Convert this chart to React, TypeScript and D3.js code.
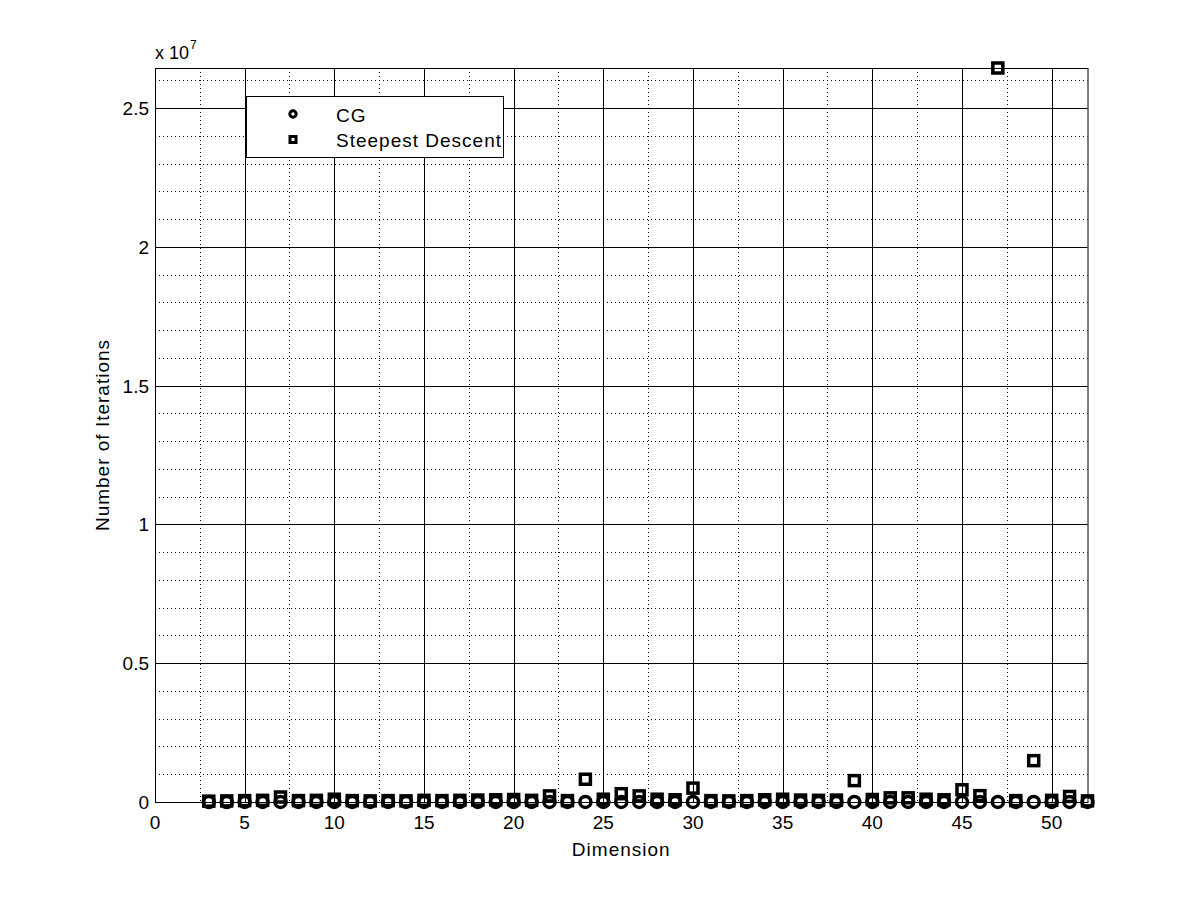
import React, { useEffect, useRef } from "react";
import * as d3 from "d3";

// problem dimension (x axis)
const dims = [
  3, 4, 5, 6, 7, 8, 9, 10, 11, 12, 13, 14, 15, 16, 17, 18, 19, 20, 21, 22, 23, 24, 25, 26, 27,
  28, 29, 30, 31, 32, 33, 34, 35, 36, 37, 38, 39, 40, 41, 42, 43, 44, 45, 46, 47, 48, 49, 50, 51, 52,
];

// CG iterations (tiny compared to steepest descent)
const cgIters = [
  20, 40, 60, 80, 100, 120, 140, 160, 180, 200, 220, 240, 260, 280, 300, 320, 340, 360, 380, 400, 420,
  440, 460, 480, 500, 520, 540, 560, 580, 600, 620, 640, 660, 680, 700, 720, 740, 760, 780, 800, 820,
  840, 860, 880, 900, 920, 940, 960, 980, 1000,
];

// steepest descent iterations
const sdIters = [
  30000, 40000, 50000, 60000, 180000, 50000, 60000, 100000, 50000, 40000, 50000, 40000, 60000, 50000,
  60000, 70000, 80000, 90000, 60000, 220000, 50000, 820000, 100000, 300000, 220000, 100000, 80000,
  500000, 50000, 40000, 50000, 80000, 100000, 70000, 60000, 70000, 770000, 90000, 150000, 150000,
  100000, 80000, 440000, 230000, 26450000, 50000, 1490000, 60000, 200000, 40000,
];

const xTicks = [0, 5, 10, 15, 20, 25, 30, 35, 40, 45, 50];
const yTicks = [0, 5e6, 10e6, 15e6, 20e6, 25e6];
const yTickLabels = ["0", "0.5", "1", "1.5", "2", "2.5"];

export default function App() {
  const ref = useRef<SVGSVGElement | null>(null);

  useEffect(() => {
    const W = 1201;
    const H = 901;
    const m = { left: 155, right: 1087.5, top: 68, bottom: 802 };
    const font = "'Liberation Sans', Arial, Helvetica, sans-serif";

    const x = d3.scaleLinear().domain([0, 52]).range([m.left, m.right]);
    const y = d3.scaleLinear().domain([0, 26450000]).range([m.bottom, m.top]);

    const svg = d3.select(ref.current);
    svg.selectAll("*").remove();
    svg.attr("width", W).attr("height", H);

    svg.append("rect").attr("width", W).attr("height", H).attr("fill", "#fff");

    // minor grid
    const xMinor = d3.range(2.5, 52, 5);
    const yMinor = d3.range(1e6, 26.5e6, 1e6).filter((v) => Math.round(v / 1e6) % 5 !== 0);
    const g = svg.append("g");
    g.selectAll(".xmin")
      .data(xMinor)
      .enter()
      .append("line")
      .attr("x1", (d) => Math.round(x(d)) + 0.5)
      .attr("x2", (d) => Math.round(x(d)) + 0.5)
      .attr("y1", m.top)
      .attr("y2", m.bottom)
      .attr("stroke", "#000")
      .attr("stroke-width", 1)
      .attr("stroke-dasharray", "1,3");
    g.selectAll(".ymin")
      .data(yMinor)
      .enter()
      .append("line")
      .attr("x1", m.left)
      .attr("x2", m.right)
      .attr("y1", (d) => Math.round(y(d)) + 0.5)
      .attr("y2", (d) => Math.round(y(d)) + 0.5)
      .attr("stroke", "#000")
      .attr("stroke-width", 1)
      .attr("stroke-dasharray", "1,3");

    // major grid
    g.selectAll(".xmaj")
      .data(xTicks.slice(1))
      .enter()
      .append("line")
      .attr("x1", (d) => Math.round(x(d)) + 0.5)
      .attr("x2", (d) => Math.round(x(d)) + 0.5)
      .attr("y1", m.top)
      .attr("y2", m.bottom)
      .attr("stroke", "#000");
    g.selectAll(".ymaj")
      .data(yTicks.slice(1))
      .enter()
      .append("line")
      .attr("x1", m.left)
      .attr("x2", m.right)
      .attr("y1", (d) => Math.round(y(d)) + 0.5)
      .attr("y2", (d) => Math.round(y(d)) + 0.5)
      .attr("stroke", "#000");

    // box
    svg
      .append("rect")
      .attr("x", m.left + 0.5)
      .attr("y", m.top + 0.5)
      .attr("width", m.right - m.left)
      .attr("height", m.bottom - m.top)
      .attr("fill", "none")
      .attr("stroke", "#000");

    // tick labels
    svg
      .append("g")
      .selectAll("text")
      .data(xTicks)
      .enter()
      .append("text")
      .attr("x", (d) => x(d))
      .attr("y", 829)
      .attr("text-anchor", "middle")
      .attr("font-family", font)
      .attr("font-size", 19)
      .text((d) => String(d));
    svg
      .append("g")
      .selectAll("text")
      .data(yTicks)
      .enter()
      .append("text")
      .attr("x", 149)
      .attr("y", (d) => y(d) + 7)
      .attr("text-anchor", "end")
      .attr("font-family", font)
      .attr("font-size", 19)
      .text((d, i) => yTickLabels[i]);

    // exponent
    const ex = svg.append("text").attr("x", 155).attr("y", 59).attr("font-family", font).attr("font-size", 18);
    ex.append("tspan").text("x 10");
    ex.append("tspan").attr("font-size", 12).attr("dy", -10).attr("dx", 1).text("7");

    // axis titles
    svg
      .append("text")
      .attr("x", x(26))
      .attr("y", 856)
      .attr("text-anchor", "middle")
      .attr("font-family", font)
      .attr("font-size", 19)
      .attr("letter-spacing", 1)
      .text("Dimension");
    svg
      .append("text")
      .attr("transform", `translate(109, ${(m.top + m.bottom) / 2}) rotate(-90)`)
      .attr("text-anchor", "middle")
      .attr("font-family", font)
      .attr("font-size", 19)
      .attr("letter-spacing", 1)
      .text("Number of Iterations");

    // markers
    const pts = svg.append("g");
    pts
      .selectAll("circle")
      .data(dims)
      .enter()
      .append("circle")
      .attr("cx", (d) => x(d))
      .attr("cy", (d, i) => y(cgIters[i]))
      .attr("r", 5.5)
      .attr("fill", "none")
      .attr("stroke", "#000")
      .attr("stroke-width", 3.5);
    pts
      .selectAll("rect")
      .data(dims)
      .enter()
      .append("rect")
      .attr("x", (d) => x(d) - 5)
      .attr("y", (d, i) => y(sdIters[i]) - 5)
      .attr("width", 10)
      .attr("height", 10)
      .attr("fill", "none")
      .attr("stroke", "#000")
      .attr("stroke-width", 3.5);

    // legend
    const lg = svg.append("g");
    lg.append("rect")
      .attr("x", 246.5)
      .attr("y", 96.5)
      .attr("width", 257)
      .attr("height", 61)
      .attr("fill", "#fff")
      .attr("stroke", "#000");
    lg.append("circle")
      .attr("cx", 293)
      .attr("cy", 114)
      .attr("r", 3.2)
      .attr("fill", "none")
      .attr("stroke", "#000")
      .attr("stroke-width", 3);
    lg.append("rect")
      .attr("x", 290)
      .attr("y", 136.5)
      .attr("width", 6)
      .attr("height", 6)
      .attr("fill", "none")
      .attr("stroke", "#000")
      .attr("stroke-width", 3);
    lg.append("text")
      .attr("x", 336)
      .attr("y", 122)
      .attr("font-family", font)
      .attr("font-size", 19)
      .attr("letter-spacing", 1)
      .text("CG");
    lg.append("text")
      .attr("x", 336)
      .attr("y", 147)
      .attr("font-family", font)
      .attr("font-size", 19)
      .attr("letter-spacing", 1)
      .text("Steepest Descent");
  }, []);

  return <svg ref={ref} style={{ position: "absolute", left: 0, top: 0 }} />;
}
